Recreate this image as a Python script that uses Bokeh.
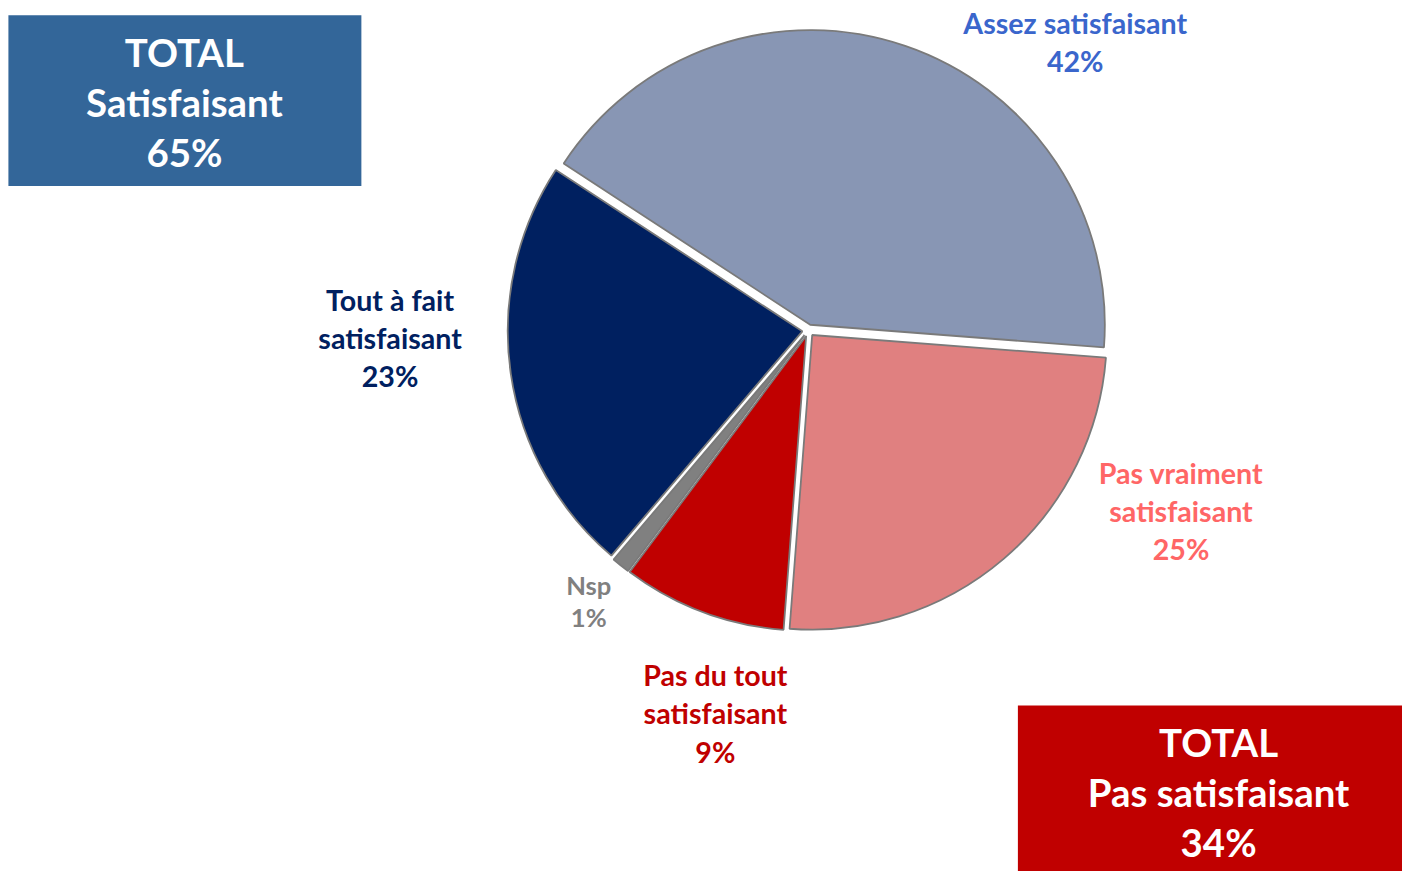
import math
from bokeh.plotting import figure
from bokeh.models import Range1d, ColumnDataSource
from bokeh.core.properties import value
from bokeh.embed import file_html
from bokeh.resources import INLINE

# ---- data ----
categories = ["Tout à fait satisfaisant", "Assez satisfaisant", "Pas vraiment satisfaisant",
              "Pas du tout satisfaisant", "Nsp"]
label_lines = ["Tout à fait\nsatisfaisant", "Assez satisfaisant", "Pas vraiment\nsatisfaisant",
               "Pas du tout\nsatisfaisant", "Nsp"]
values = [23, 42, 25, 9, 1]
total_sat = values[0] + values[1]
total_pas = values[2] + values[3]

# ---- style ----
slice_colors = ["#002060", "#8896B4", "#E08080", "#C00000", "#808080"]
label_colors = ["#002060", "#3A66CC", "#FF6666", "#C00000", "#808080"]
FONT = value("Lato")

W, H = 1402, 871
SX, SY = W / 1418, H / 887
S = (SX + SY) / 2
def X(xi):  # reference px -> plot coords
    return xi * SX
def Y(yi):
    return H - yi * SY

p = figure(width=W, height=H, x_range=Range1d(0, W), y_range=Range1d(0, H),
           output_backend="svg", toolbar_location=None, min_border=0)
p.axis.visible = False
p.grid.visible = False
p.outline_line_color = None
p.background_fill_color = "white"

# pie geometry
cx, cy, R, d = X(817), Y(336), 299 * S, 6
start_cw = 220.4
tot = sum(values)
cum = start_cw
xs, ys, sa, ea = [], [], [], []
for v in values:
    a0 = cum
    a1 = cum + v / tot * 360.0
    mid = math.radians(90 - (a0 + a1) / 2)
    xs.append(cx + d * math.cos(mid))
    ys.append(cy + d * math.sin(mid))
    sa.append(math.radians(90 - a0))
    ea.append(math.radians(90 - a1))
    cum = a1

src = ColumnDataSource(dict(x=xs, y=ys, sa=sa, ea=ea, color=slice_colors, cat=categories))
p.wedge(x="x", y="y", radius=R, start_angle="sa", end_angle="ea", direction="clock",
        fill_color="color", line_color="#7A7A7A", line_width=1.8, source=src)

def mtext(x, y, txt, size, spacing, color):
    fs = size * S
    p.text(x=[X(x)], y=[Y(y)], text=[txt], text_font=FONT, text_font_style="bold",
           text_font_size=f"{fs:.1f}px", text_color=color, text_align="center",
           text_baseline="middle", text_line_height=(spacing * S) / (1.2 * fs))

# slice labels
pos = [(394, 344), (1087, 42.5), (1194, 520), (723, 726), (595, 611.5)]
sizes = [29, 29, 29, 29, 26]
lh = [39, 39, 39, 39, 33]
for i in range(len(values)):
    mtext(pos[i][0], pos[i][1], f"{label_lines[i]}\n{values[i]}%", sizes[i], lh[i], label_colors[i])

# total boxes
p.quad(left=[X(8)], right=[X(365)], top=[Y(15)], bottom=[Y(189)], fill_color="#336699", line_color=None)
p.quad(left=[X(1029)], right=[X(1418)], top=[Y(718)], bottom=[Y(887)], fill_color="#C00000", line_color=None)
mtext(186, 103.5, f"TOTAL\nSatisfaisant\n{total_sat}%", 39, 51, "white")
mtext(1232, 806, f"TOTAL\nPas satisfaisant\n{total_pas}%", 39, 51, "white")

open("out.html", "w").write(file_html(p, INLINE))
